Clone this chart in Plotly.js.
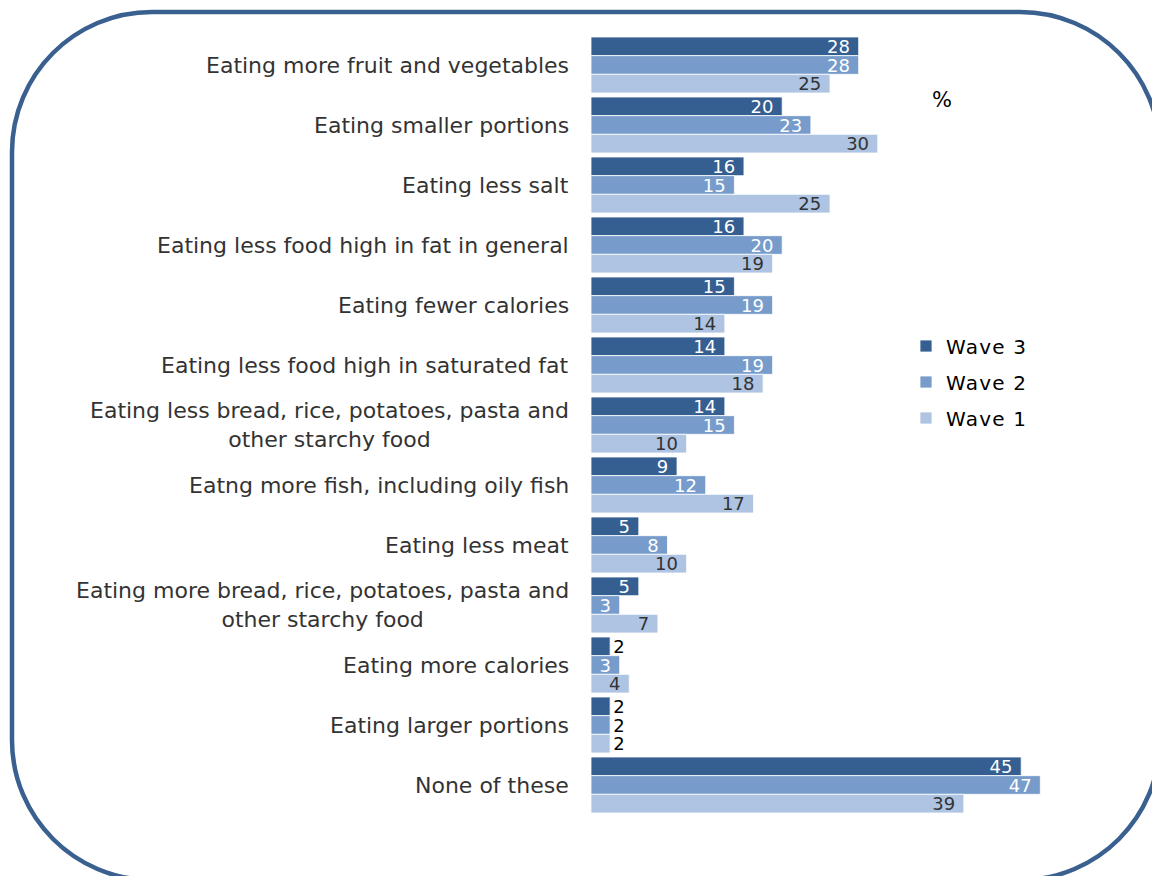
<!DOCTYPE html>
<html>
<head>
<meta charset="utf-8">
<script src="https://cdn.plot.ly/plotly-3.0.1.min.js"></script>
<style>
html,body{margin:0;padding:0;background:#fff;}
#chart{width:1152px;height:876px;}
#chart .legendtext{letter-spacing:1.2px;}
</style>
</head>
<body>
<div id="chart"></div>
<script>
const categories = [
  "Eating more fruit and vegetables",
  "Eating smaller portions",
  "Eating less salt",
  "Eating less food high in fat in general",
  "Eating fewer calories",
  "Eating less food high in saturated fat",
  "Eating less bread, rice, potatoes, pasta and<br>other starchy food",
  "Eatng more fish, including oily fish",
  "Eating less meat",
  "Eating more bread, rice, potatoes, pasta and<br>other starchy food",
  "Eating more calories",
  "Eating larger portions",
  "None of these"
];
const wave3 = [28, 20, 16, 16, 15, 14, 14, 9, 5, 5, 2, 2, 45];
const wave2 = [28, 23, 15, 20, 19, 19, 15, 12, 8, 3, 3, 2, 47];
const wave1 = [25, 30, 25, 19, 14, 18, 10, 17, 10, 7, 4, 2, 39];
const seriesNames = ["Wave 3", "Wave 2", "Wave 1"];
const seriesColors = ["#355E91", "#779CCB", "#AEC4E2"];
const insideTextColors = ["#FFFFFF", "#FFFFFF", "#333333"];
const unitLabel = "%";

const W = 1152, H = 876;
const M = {l: 591, r: 83, t: 35, b: 61};
const PW = W - M.l - M.r, PH = H - M.t - M.b;
const px = x => (x - M.l) / PW;
const py = y => (H - M.b - y) / PH;

const FONT = "DejaVu Sans, Verdana, sans-serif";

const allSeries = [wave3, wave2, wave1];
const isOutside = v => v <= 2;
const traces = allSeries.map((vals, i) => ({
  type: "bar",
  orientation: "h",
  name: seriesNames[i],
  legendgroup: "g" + i,
  y: categories,
  x: vals,
  text: vals.map(v => isOutside(v) ? String(v) : v + "\u00a0"),
  textposition: vals.map(v => isOutside(v) ? "outside" : "inside"),
  textangle: 0,
  insidetextanchor: "end",
  constraintext: "none",
  cliponaxis: false,
  insidetextfont: {family: FONT, size: 18, color: insideTextColors[i]},
  outsidetextfont: {family: FONT, size: 18, color: "#000000"},
  marker: {color: seriesColors[i], line: {color: "#FFFFFF", width: 0.8}},
  hoverinfo: "x+y+name"
}));

// rounded border (pixel coords -> paper)
const bx0 = 12, by0 = 12, bx1 = 1160, by1 = 880, r = 140, k = 0.5523 * r;
const P = (x, y) => px(x).toFixed(5) + "," + py(y).toFixed(5);
const path = "M" + P(bx0 + r, by0) +
  " L" + P(bx1 - r, by0) +
  " C" + P(bx1 - r + k, by0) + " " + P(bx1, by0 + r - k) + " " + P(bx1, by0 + r) +
  " L" + P(bx1, by1 - r) +
  " C" + P(bx1, by1 - r + k) + " " + P(bx1 - r + k, by1) + " " + P(bx1 - r, by1) +
  " L" + P(bx0 + r, by1) +
  " C" + P(bx0 + r - k, by1) + " " + P(bx0, by1 - r + k) + " " + P(bx0, by1 - r) +
  " L" + P(bx0, by0 + r) +
  " C" + P(bx0, by0 + r - k) + " " + P(bx0 + r - k, by0) + " " + P(bx0 + r, by0) + " Z";

const annotations = categories.map(c => ({
  xref: "paper", yref: "y", x: px(571), y: c,
  xanchor: "right", yanchor: "middle", align: "center",
  text: c, showarrow: false,
  font: {family: FONT, size: 22, color: "#333333"}
}));
annotations.push({
  xref: "paper", yref: "paper", x: px(942), y: py(100),
  xanchor: "center", yanchor: "middle", text: unitLabel, showarrow: false,
  font: {family: FONT, size: 21, color: "#000000"}
});

const layout = {
  width: W, height: H,
  margin: M,
  paper_bgcolor: "#FFFFFF", plot_bgcolor: "rgba(0,0,0,0)",
  barmode: "group", bargap: 0.067, bargroupgap: 0,
  showlegend: true,
  legend: {
    x: px(906), y: py(382), xanchor: "left", yanchor: "middle",
    font: {family: FONT, size: 20, color: "#000000"},
    tracegroupgap: 7, bgcolor: "rgba(0,0,0,0)"
  },
  xaxis: {range: [0, 50], visible: false, showgrid: false, zeroline: false, fixedrange: true},
  yaxis: {autorange: "reversed", showticklabels: false, showgrid: false, zeroline: false, showline: false, ticks: "", fixedrange: true},
  uniformtext: {mode: "show", minsize: 18},
  annotations: annotations,
  shapes: [{type: "path", xref: "paper", yref: "paper", path: path, line: {color: "#3A6090", width: 4.5}, layer: "above"}]
};

Plotly.newPlot("chart", traces, layout, {displayModeBar: false, staticPlot: true});
</script>
</body>
</html>
